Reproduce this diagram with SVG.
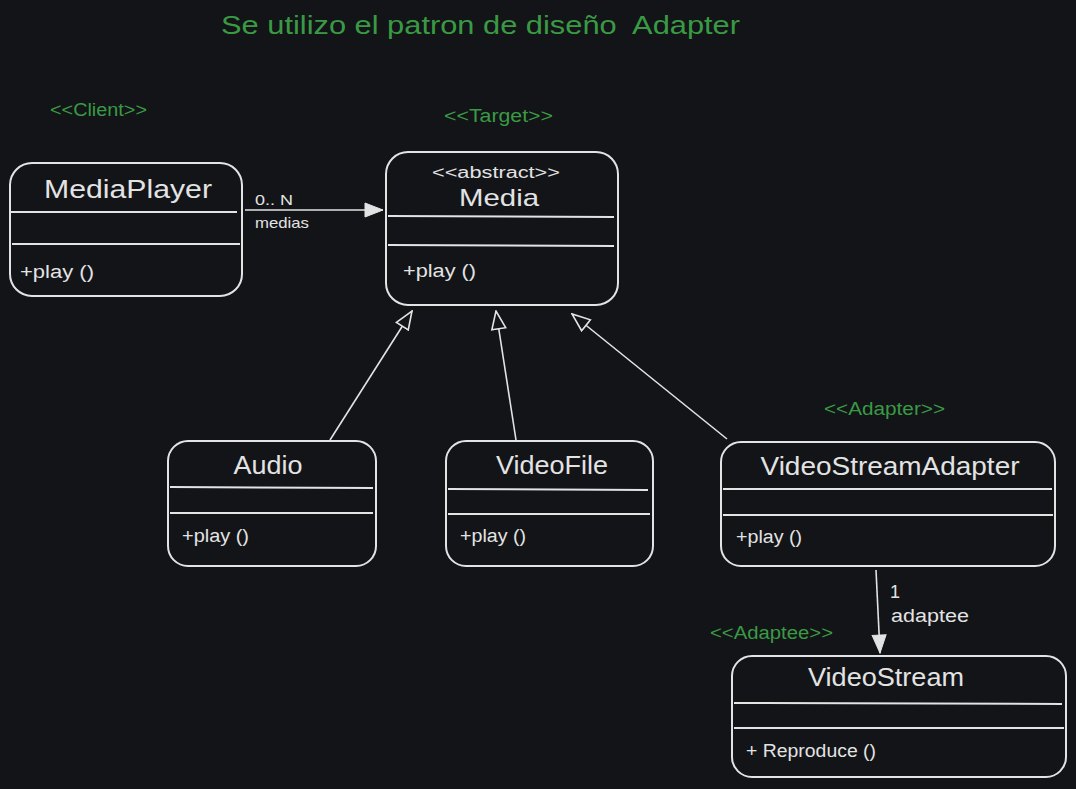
<svg xmlns="http://www.w3.org/2000/svg" width="1076" height="789" viewBox="0 0 1076 789">
<defs>
<style>
.box{fill:none;stroke:#e3e3e3;stroke-width:2}
.sep{stroke:#e3e3e3;stroke-width:2}
.t{font-family:"Liberation Sans",Arial,sans-serif;fill:#e3e3e3}
.title{font-size:26px;text-anchor:middle}
.op{font-size:18px}
.g{font-family:"Liberation Sans",Arial,sans-serif;fill:#3a9a44}
.st{font-size:18px}
.conn{stroke:#e3e3e3;stroke-width:1.6;fill:none}
.lbl{font-family:"Liberation Sans",Arial,sans-serif;fill:#e3e3e3;font-size:15px}
.lbl2{font-family:"Liberation Sans",Arial,sans-serif;fill:#e3e3e3;font-size:18px}
</style>
<marker id="filled" viewBox="0 0 20 20" refX="19" refY="10" markerWidth="20" markerHeight="20" markerUnits="userSpaceOnUse" orient="auto">
<path d="M1,3 L19,10 L1,17 Z" fill="#e3e3e3" stroke="#e3e3e3" stroke-width="1"/>
</marker>
<marker id="hollow" viewBox="0 0 20 20" refX="19" refY="10" markerWidth="20" markerHeight="20" markerUnits="userSpaceOnUse" orient="auto">
<path d="M1,3 L19,10 L1,17 Z" fill="#121418" stroke="#e3e3e3" stroke-width="1.6"/>
</marker>
</defs>
<rect width="1076" height="789" fill="#121418"/>
<text class="g" x="221" y="34" font-size="26" textLength="519" lengthAdjust="spacingAndGlyphs" xml:space="preserve">Se utilizo el patron de diseño  Adapter</text>
<text class="g st" x="50" y="116" textLength="97" lengthAdjust="spacingAndGlyphs">&lt;&lt;Client&gt;&gt;</text>
<text class="g st" x="444" y="122" textLength="109" lengthAdjust="spacingAndGlyphs">&lt;&lt;Target&gt;&gt;</text>
<text class="g st" x="824" y="415" textLength="121" lengthAdjust="spacingAndGlyphs">&lt;&lt;Adapter&gt;&gt;</text>
<text class="g st" x="710" y="639" textLength="123" lengthAdjust="spacingAndGlyphs">&lt;&lt;Adaptee&gt;&gt;</text>

<g id="connectors">
<line class="conn" x1="245" y1="210" x2="383" y2="210" marker-end="url(#filled)"/>
<line class="conn" x1="330" y1="440" x2="412" y2="311" marker-end="url(#hollow)"/>
<line class="conn" x1="516" y1="440" x2="496" y2="311" marker-end="url(#hollow)"/>
<line class="conn" x1="727" y1="439" x2="572" y2="314" marker-end="url(#hollow)"/>
<line class="conn" x1="876" y1="570" x2="880" y2="653" marker-end="url(#filled)"/>
<text class="lbl" x="255" y="205" textLength="38" lengthAdjust="spacingAndGlyphs">0.. N</text>
<text class="lbl" x="255" y="228" textLength="54" lengthAdjust="spacingAndGlyphs">medias</text>
<text class="lbl2" x="890" y="598">1</text>
<text class="lbl2" x="891" y="622" textLength="78" lengthAdjust="spacingAndGlyphs">adaptee</text>
</g>

<g id="MediaPlayer">
<rect class="box" x="10" y="163" width="232" height="133" rx="22"/>
<line class="sep" x1="11" y1="212" x2="237" y2="212"/>
<line class="sep" x1="12" y1="244" x2="240" y2="244"/>
<text class="t title" x="128" y="198" textLength="168" lengthAdjust="spacingAndGlyphs">MediaPlayer</text>
<text class="t op" x="20" y="278" textLength="74" lengthAdjust="spacingAndGlyphs">+play ()</text>
</g>

<g id="Media">
<rect class="box" x="386" y="152" width="232" height="153" rx="22"/>
<line class="sep" x1="388" y1="216" x2="614" y2="217"/>
<line class="sep" x1="388" y1="245" x2="614" y2="246"/>
<text class="t" x="496" y="178" font-size="16" text-anchor="middle" textLength="128" lengthAdjust="spacingAndGlyphs">&lt;&lt;abstract&gt;&gt;</text>
<text class="t" x="499" y="206" font-size="24" text-anchor="middle" textLength="80" lengthAdjust="spacingAndGlyphs">Media</text>
<text class="t op" x="403" y="277" textLength="73" lengthAdjust="spacingAndGlyphs">+play ()</text>
</g>

<g id="Audio">
<rect class="box" x="168" y="441" width="208" height="125" rx="20"/>
<line class="sep" x1="170" y1="487" x2="373" y2="488"/>
<line class="sep" x1="170" y1="513" x2="373" y2="513"/>
<text class="t title" x="268" y="474" textLength="69" lengthAdjust="spacingAndGlyphs">Audio</text>
<text class="t op" x="182" y="542" textLength="67" lengthAdjust="spacingAndGlyphs">+play ()</text>
</g>

<g id="VideoFile">
<rect class="box" x="446" y="441" width="207" height="125" rx="20"/>
<line class="sep" x1="448" y1="489" x2="648" y2="490"/>
<line class="sep" x1="448" y1="514" x2="650" y2="514"/>
<text class="t title" x="552" y="474" textLength="112" lengthAdjust="spacingAndGlyphs">VideoFile</text>
<text class="t op" x="460" y="542" textLength="66" lengthAdjust="spacingAndGlyphs">+play ()</text>
</g>

<g id="VideoStreamAdapter">
<rect class="box" x="721" y="442" width="334" height="124" rx="20"/>
<line class="sep" x1="723" y1="489" x2="1052" y2="489"/>
<line class="sep" x1="723" y1="515" x2="1053" y2="515"/>
<text class="t title" x="890" y="475" textLength="259" lengthAdjust="spacingAndGlyphs">VideoStreamAdapter</text>
<text class="t op" x="736" y="543" textLength="66" lengthAdjust="spacingAndGlyphs">+play ()</text>
</g>

<g id="VideoStream">
<rect class="box" x="732" y="656" width="334" height="121" rx="20"/>
<line class="sep" x1="734" y1="703" x2="1062" y2="704"/>
<line class="sep" x1="734" y1="728" x2="1064" y2="728"/>
<text class="t title" x="886" y="686" textLength="156" lengthAdjust="spacingAndGlyphs">VideoStream</text>
<text class="t op" x="746" y="757" textLength="130" lengthAdjust="spacingAndGlyphs">+ Reproduce ()</text>
</g>
</svg>
